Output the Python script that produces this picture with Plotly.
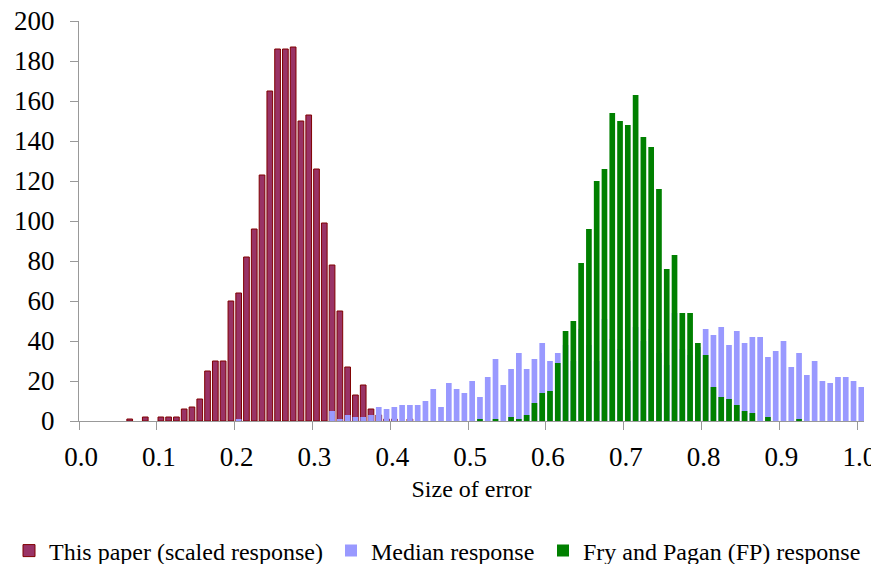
import plotly.graph_objects as go

# bin categories 0.00 .. 1.00 (step 0.01)
bins = [round(i * 0.01, 2) for i in range(101)]

this_paper = [0, 0, 0, 0, 0, 0, 1, 0, 2, 0,
              2, 2, 2, 6, 7, 11, 25, 30, 30, 60,
              64, 82, 96, 123, 165, 186, 186, 187, 150, 153,
              126, 99, 78, 55, 27, 13, 18, 6, 3, 1,
              1, 0, 1, 0, 0, 0, 0, 0, 0, 0,
              0, 0, 0, 0, 0, 0, 0, 0, 0, 0,
              0, 0, 0, 0, 0, 0, 0, 0, 0, 0,
              0, 0, 0, 0, 0, 0, 0, 0, 0, 0,
              0, 0, 0, 0, 0, 0, 0, 0, 0, 0,
              0, 0, 0, 0, 0, 0, 0, 0, 0, 0,
              0]

median_resp = [0, 0, 0, 0, 0, 0, 0, 0, 0, 0,
               0, 0, 0, 0, 0, 0, 0, 0, 0, 0,
               1, 0, 0, 0, 0, 0, 0, 0, 0, 0,
               0, 0, 5, 1, 3, 2, 2, 3, 7, 6,
               7, 8, 8, 8, 10, 16, 7, 19, 16, 14,
               20, 12, 22, 31, 18, 26, 34, 26, 31, 39,
               30, 34, 38, 30, 46, 38, 30, 51, 41, 36,
               30, 47, 40, 46, 34, 28, 54, 36, 33, 37,
               46, 43, 47, 38, 45, 39, 42, 42, 32, 35,
               40, 27, 34, 23, 30, 20, 19, 22, 22, 20,
               17]

fp_resp = [0, 0, 0, 0, 0, 0, 0, 0, 0, 0,
           0, 0, 0, 0, 0, 0, 0, 0, 0, 0,
           0, 0, 0, 0, 0, 0, 0, 0, 0, 0,
           0, 0, 0, 0, 0, 0, 0, 0, 0, 0,
           0, 0, 0, 0, 0, 0, 0, 0, 0, 0,
           0, 1, 0, 1, 0, 2, 1, 3, 9, 14,
           15, 29, 45, 50, 79, 96, 120, 126, 154, 150,
           148, 163, 142, 137, 116, 76, 83, 54, 54, 39,
           33, 17, 12, 11, 8, 5, 4, 0, 2, 0,
           0, 0, 1, 0, 0, 0, 0, 0, 0, 0,
           0]

x_ticks = [0.0, 0.1, 0.2, 0.3, 0.4, 0.5, 0.6, 0.7, 0.8, 0.9, 1.0]
x_ticktext = ["0.0", "0.1", "0.2", "0.3", "0.4", "0.5", "0.6", "0.7", "0.8", "0.9", "1.0"]
y_ticks = [0, 20, 40, 60, 80, 100, 120, 140, 160, 180, 200]

FONT = "Liberation Serif"
BAR_W = 0.0073
BAR_OFF = 0.0015


def nz(vals):
    # empty bins are drawn as nothing (no outline on the baseline)
    return [v if v else None for v in vals]


# page body has an 8px margin; figure is sized to fill the rest of the window
W, H = 871, 556

fig = go.Figure()
fig.add_trace(go.Bar(x=bins, y=nz(this_paper), name="This paper (scaled response)",
                     width=BAR_W, offset=BAR_OFF, legend="legend",
                     marker=dict(color="#993366", line=dict(color="#800000", width=1))))
fig.add_trace(go.Bar(x=bins, y=nz(median_resp), name="Median response",
                     width=BAR_W, offset=BAR_OFF, legend="legend2",
                     marker=dict(color="#9999FF", line=dict(width=0))))
fig.add_trace(go.Bar(x=bins, y=nz(fp_resp), name="Fry and Pagan (FP) response",
                     width=BAR_W, offset=BAR_OFF, legend="legend3",
                     marker=dict(color="#008000", line=dict(width=0))))

leg_common = dict(orientation="h", xref="container", yref="container",
                  xanchor="left", y=1 - 543 / H, yanchor="middle",
                  font=dict(family=FONT, size=24), itemwidth=30,
                  bgcolor="rgba(0,0,0,0)")

fig.update_layout(
    width=W, height=H,
    barmode="overlay",
    plot_bgcolor="white", paper_bgcolor="white",
    margin=dict(l=71, r=15, t=13, b=143, autoexpand=False),
    font=dict(family=FONT, color="black", size=24),
    showlegend=True,
    legend=dict(leg_common, x=1 / W),
    legend2=dict(leg_common, x=323 / W),
    legend3=dict(leg_common, x=535 / W),
    xaxis=dict(range=[0, 1.0086], tickmode="array", tickvals=x_ticks, ticktext=x_ticktext,
               ticks="outside", ticklen=8, tickcolor="#999999", tickwidth=1,
               showline=True, linecolor="#999999", linewidth=1,
               showgrid=False, zeroline=False, automargin=False,
               tickfont=dict(family=FONT, size=27), ticklabelstandoff=4,
               ticklabelshift=2, ticklabeloverflow="allow",
               title=dict(text="Size of error", font=dict(family=FONT, size=24), standoff=8)),
    yaxis=dict(range=[0, 200], tickmode="array", tickvals=y_ticks,
               ticks="outside", ticklen=8, tickcolor="#999999", tickwidth=1,
               showline=True, linecolor="#999999", linewidth=1,
               showgrid=False, zeroline=False, automargin=False,
               tickfont=dict(family=FONT, size=27), ticklabelstandoff=10,
               ticklabeloverflow="allow"),
)

fig.write_html("out.html")
